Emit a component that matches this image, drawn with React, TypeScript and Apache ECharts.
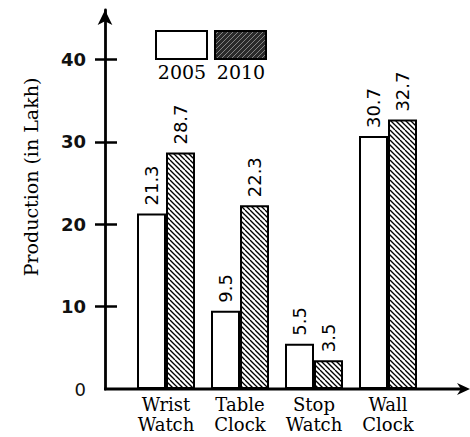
import React, { useEffect, useRef } from "react";
import * as echarts from "echarts";

const categories = ["Wrist\nWatch", "Table\nClock", "Stop\nWatch", "Wall\nClock"];
const seriesNames = ["2005", "2010"];
const values2005 = [21.3, 9.5, 5.5, 30.7];
const values2010 = [28.7, 22.3, 3.5, 32.7];
const yTickLabels = [0, 10, 20, 30, 40];
const yTicks = [10, 20, 30, 40];
const yName = "Production (in Lakh)";

function makeHatch(bg: string, fg: string, forward: boolean, lw: number) {
  const c = document.createElement("canvas");
  const s = 10;
  c.width = s;
  c.height = s;
  const ctx = c.getContext("2d")!;
  ctx.fillStyle = bg;
  ctx.fillRect(0, 0, s, s);
  ctx.strokeStyle = fg;
  ctx.lineWidth = lw;
  for (let k = -10; k <= 10; k += 5) {
    ctx.beginPath();
    if (forward) {
      ctx.moveTo(k, s);
      ctx.lineTo(k + s, 0);
    } else {
      ctx.moveTo(k, 0);
      ctx.lineTo(k + s, s);
    }
    ctx.stroke();
  }
  return c;
}

export default function App() {
  const ref = useRef<HTMLDivElement>(null);
  useEffect(() => {
    if (!ref.current) return;
    const chart = echarts.init(ref.current, null, { renderer: "svg" });
    const hatch = makeHatch("#ffffff", "#000000", false, 1.3);
    const legendHatch = makeHatch("#2a2a2a", "#9a9a9a", true, 0.8);
    const GL = 129;
    const AXX = 105;
    const AXY = 389;
    const valueLabel = {
      show: true,
      position: "top",
      rotate: 90,
      align: "left",
      verticalAlign: "middle",
      distance: 8,
      fontFamily: "DejaVu Sans",
      fontSize: 18,
      color: "#000",
      formatter: (p: any) => String(p.value),
    };
    const yCommon = {
      type: "value",
      min: 0,
      max: 46,
      position: "left",
      offset: GL - AXX,
      splitLine: { show: false },
    };
    chart.setOption({
      animation: false,
      backgroundColor: "#fff",
      grid: { left: GL, top: 10, width: 296, bottom: 437 - AXY },
      xAxis: {
        type: "category",
        data: categories,
        axisLine: { show: false },
        axisTick: { show: false },
        axisLabel: {
          interval: 0,
          margin: 5,
          fontFamily: "DejaVu Serif",
          fontSize: 18,
          lineHeight: 20,
          color: "#000",
        },
      },
      yAxis: [
        {
          ...yCommon,
          axisLine: {
            show: true,
            symbol: ["none", "arrow"],
            symbolSize: [11, 15],
            lineStyle: { color: "#000", width: 2.8 },
          },
          axisTick: {
            show: true,
            length: 10,
            customValues: yTicks,
            lineStyle: { color: "#000", width: 2.5 },
          },
          axisLabel: {
            show: true,
            margin: 19,
            customValues: yTickLabels,
            formatter: (v: number) => (v === 0 ? `{n|${v}}` : `{b|${v}}`),
            rich: {
              n: { fontFamily: "DejaVu Sans", fontSize: 18, color: "#111" },
              b: { fontFamily: "DejaVu Sans", fontSize: 18, fontWeight: "bold", color: "#111" },
            },
          },
        },
        {
          ...yCommon,
          axisLine: { show: false },
          axisTick: {
            show: true,
            inside: true,
            length: 12,
            customValues: yTicks,
            lineStyle: { color: "#000", width: 2.5 },
          },
          axisLabel: { show: false },
        },
      ],
      series: [
        {
          name: seriesNames[0],
          type: "bar",
          data: values2005,
          barWidth: 29,
          barGap: "0%",
          itemStyle: { color: "#fff", borderColor: "#000", borderWidth: 2 },
          label: valueLabel,
        },
        {
          name: seriesNames[1],
          type: "bar",
          data: values2010,
          barWidth: 29,
          barGap: "0%",
          itemStyle: {
            color: { image: hatch, repeat: "repeat" },
            borderColor: "#000",
            borderWidth: 2,
          },
          label: valueLabel,
        },
      ],
      graphic: [
        {
          type: "line",
          shape: { x1: AXX - 1, y1: AXY, x2: 462, y2: AXY },
          style: { stroke: "#000", lineWidth: 2.8 },
        },
        {
          type: "polygon",
          shape: { points: [[470, AXY], [457, AXY - 6], [461, AXY], [457, AXY + 6]] },
          style: { fill: "#000" },
        },
        {
          type: "text",
          x: 31,
          y: 177,
          rotation: Math.PI / 2,
          style: {
            text: yName,
            fontFamily: "DejaVu Serif",
            fontSize: 19,
            fill: "#000",
            align: "center",
            verticalAlign: "middle",
          },
        },
        {
          type: "rect",
          shape: { x: 156, y: 31, width: 51, height: 28 },
          style: { fill: "#fff", stroke: "#000", lineWidth: 2 },
        },
        {
          type: "rect",
          shape: { x: 215, y: 31, width: 51, height: 28 },
          style: { fill: { image: legendHatch, repeat: "repeat" } as any, stroke: "#000", lineWidth: 2 },
        },
        {
          type: "text",
          x: 182,
          y: 72,
          style: {
            text: seriesNames[0],
            fontFamily: "DejaVu Serif",
            fontSize: 19,
            fill: "#000",
            align: "center",
            verticalAlign: "middle",
          },
        },
        {
          type: "text",
          x: 241,
          y: 72,
          style: {
            text: seriesNames[1],
            fontFamily: "DejaVu Serif",
            fontSize: 19,
            fill: "#000",
            align: "center",
            verticalAlign: "middle",
          },
        },
      ],
    });
    return () => chart.dispose();
  }, []);
  return (
    <div
      ref={ref}
      style={{ position: "fixed", left: 0, top: 0, width: 470, height: 437 }}
    />
  );
}
